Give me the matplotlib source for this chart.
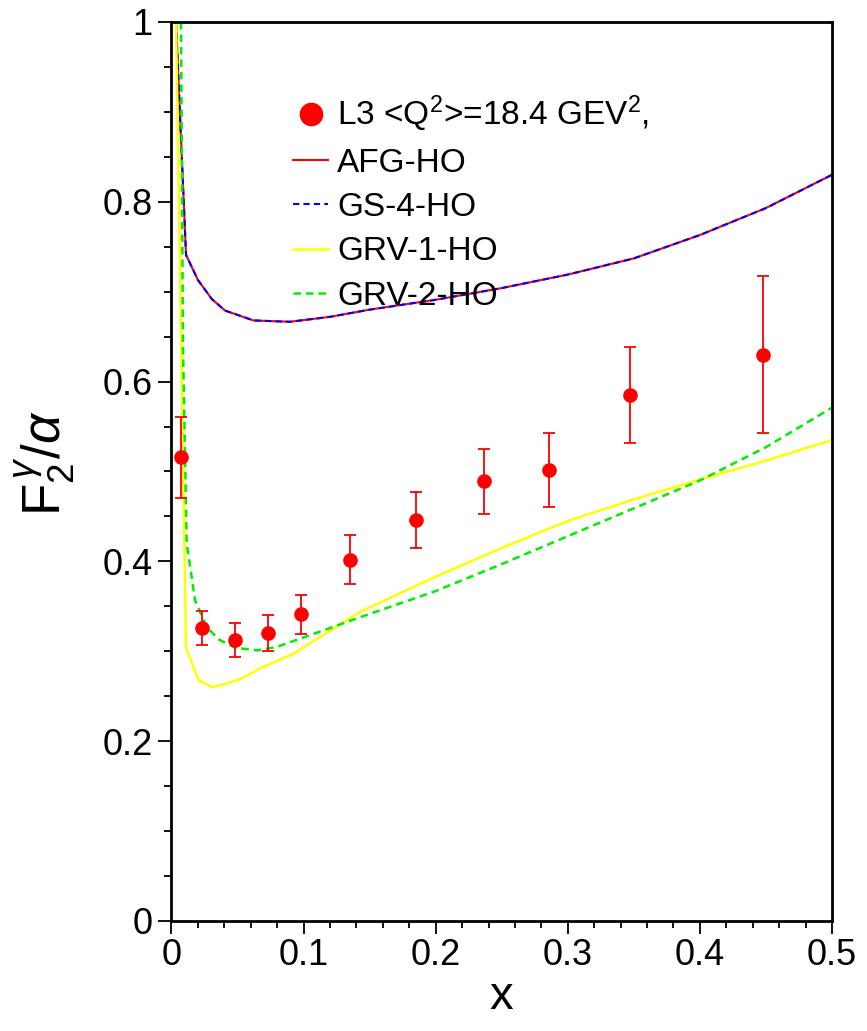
import matplotlib
matplotlib.use("Agg")
import matplotlib.pyplot as plt
from matplotlib.ticker import MultipleLocator
from matplotlib.lines import Line2D

plt.rcParams['font.family'] = ['Liberation Sans', 'DejaVu Sans']
plt.rcParams['mathtext.fontset'] = 'custom'
plt.rcParams['mathtext.rm'] = 'Liberation Sans'
plt.rcParams['mathtext.it'] = 'Liberation Sans:italic'

# L3 data
data_x = [0.0073, 0.0229, 0.0484, 0.0734, 0.0983, 0.135, 0.185, 0.2368, 0.286, 0.347, 0.448]
data_y = [0.516, 0.326, 0.313, 0.320, 0.341, 0.402, 0.446, 0.489, 0.502, 0.585, 0.630]
data_err = [0.045, 0.019, 0.019, 0.020, 0.022, 0.027, 0.031, 0.036, 0.041, 0.053, 0.087]

# AFG-HO and GS-4-HO (coincide)
afg_x = [0.0034, 0.011, 0.020, 0.0304, 0.0405, 0.062, 0.0897, 0.12, 0.15, 0.2, 0.25, 0.3, 0.35, 0.4, 0.45, 0.5]
afg_y = [1.00, 0.741, 0.713, 0.692, 0.679, 0.668, 0.6665, 0.672, 0.680, 0.691, 0.704, 0.719, 0.737, 0.763, 0.793, 0.830]
gs4_x = afg_x
gs4_y = afg_y

# GRV-1-HO
grv1_x = [0.0034, 0.011, 0.0204, 0.031, 0.041, 0.052, 0.067, 0.092, 0.143, 0.2, 0.25, 0.3, 0.35, 0.4, 0.45, 0.5]
grv1_y = [1.00, 0.304, 0.268, 0.260, 0.264, 0.269, 0.281, 0.297, 0.344, 0.383, 0.415, 0.445, 0.469, 0.491, 0.512, 0.535]

# GRV-2-HO
grv2_x = [0.0072, 0.0087, 0.0115, 0.0178, 0.0266, 0.036, 0.048, 0.065, 0.080, 0.105, 0.143, 0.2, 0.25, 0.3, 0.35, 0.4, 0.45, 0.5]
grv2_y = [1.00, 0.64, 0.42, 0.357, 0.327, 0.313, 0.304, 0.301, 0.305, 0.318, 0.338, 0.367, 0.397, 0.428, 0.459, 0.490, 0.527, 0.571]

fig = plt.figure(figsize=(8.67, 10.31), dpi=100)
ax = fig.add_axes([0.1978, 0.1067, 0.7618, 0.872])

ax.plot(afg_x, afg_y, color='red', lw=1.5, solid_joinstyle='round')
ax.plot(gs4_x, gs4_y, color='blue', lw=1.5, dashes=(3, 2))
ax.plot(grv1_x, grv1_y, color='#ffff00', lw=1.8)
ax.plot(grv2_x, grv2_y, color='#00ee00', lw=1.8, dashes=(3, 2))
ax.errorbar(data_x, data_y, yerr=data_err, fmt='o', color='red', ms=9.5,
            ecolor='red', elinewidth=1.3, capsize=4.6, capthick=1.3, zorder=5)

ax.set_xlim(0, 0.5)
ax.set_ylim(0, 1)
ax.xaxis.set_minor_locator(MultipleLocator(0.02))
ax.yaxis.set_minor_locator(MultipleLocator(0.05))
ax.set_xticks([0, 0.1, 0.2, 0.3, 0.4, 0.5])
ax.set_xticklabels(['0', '0.1', '0.2', '0.3', '0.4', '0.5'])
ax.set_yticks([0, 0.2, 0.4, 0.6, 0.8, 1.0])
ax.set_yticklabels(['0', '0.2', '0.4', '0.6', '0.8', '1'])
ax.tick_params(which='major', direction='out', length=9.5, width=1.3, labelsize=26)
ax.tick_params(axis='x', which='major', pad=3)
ax.tick_params(axis='y', which='major', pad=4)
ax.tick_params(which='minor', direction='out', length=5, width=1.3)
for s in ax.spines.values():
    s.set_linewidth(2)

ax.set_xlabel('x', fontsize=34, labelpad=1)
fig.text(0.052, 0.551, r'$\mathrm{F}_2^{\,\gamma}/\alpha$', rotation=90, fontsize=38,
         ha='center', va='center')

handles = [
    Line2D([], [], color='red', marker='o', ls='none', ms=16),
    Line2D([], [], color='red', lw=1.5),
    Line2D([], [], color='blue', lw=1.5, dashes=(3, 2)),
    Line2D([], [], color='#ffff00', lw=1.8),
    Line2D([], [], color='#00ee00', lw=1.8, dashes=(3, 2)),
]
labels = [r'L3 <Q$^2$>=18.4 GEV$^2$,', 'AFG-HO', 'GS-4-HO', 'GRV-1-HO', 'GRV-2-HO']
ax.legend(handles, labels, loc='upper left', bbox_to_anchor=(293 / 867, 0.909),
          bbox_transform=fig.transFigure, frameon=False,
          fontsize=24, handlelength=1.05, handletextpad=0.28, labelspacing=0.4,
          borderaxespad=0, borderpad=0)

fig.savefig('out.png', dpi=100)
